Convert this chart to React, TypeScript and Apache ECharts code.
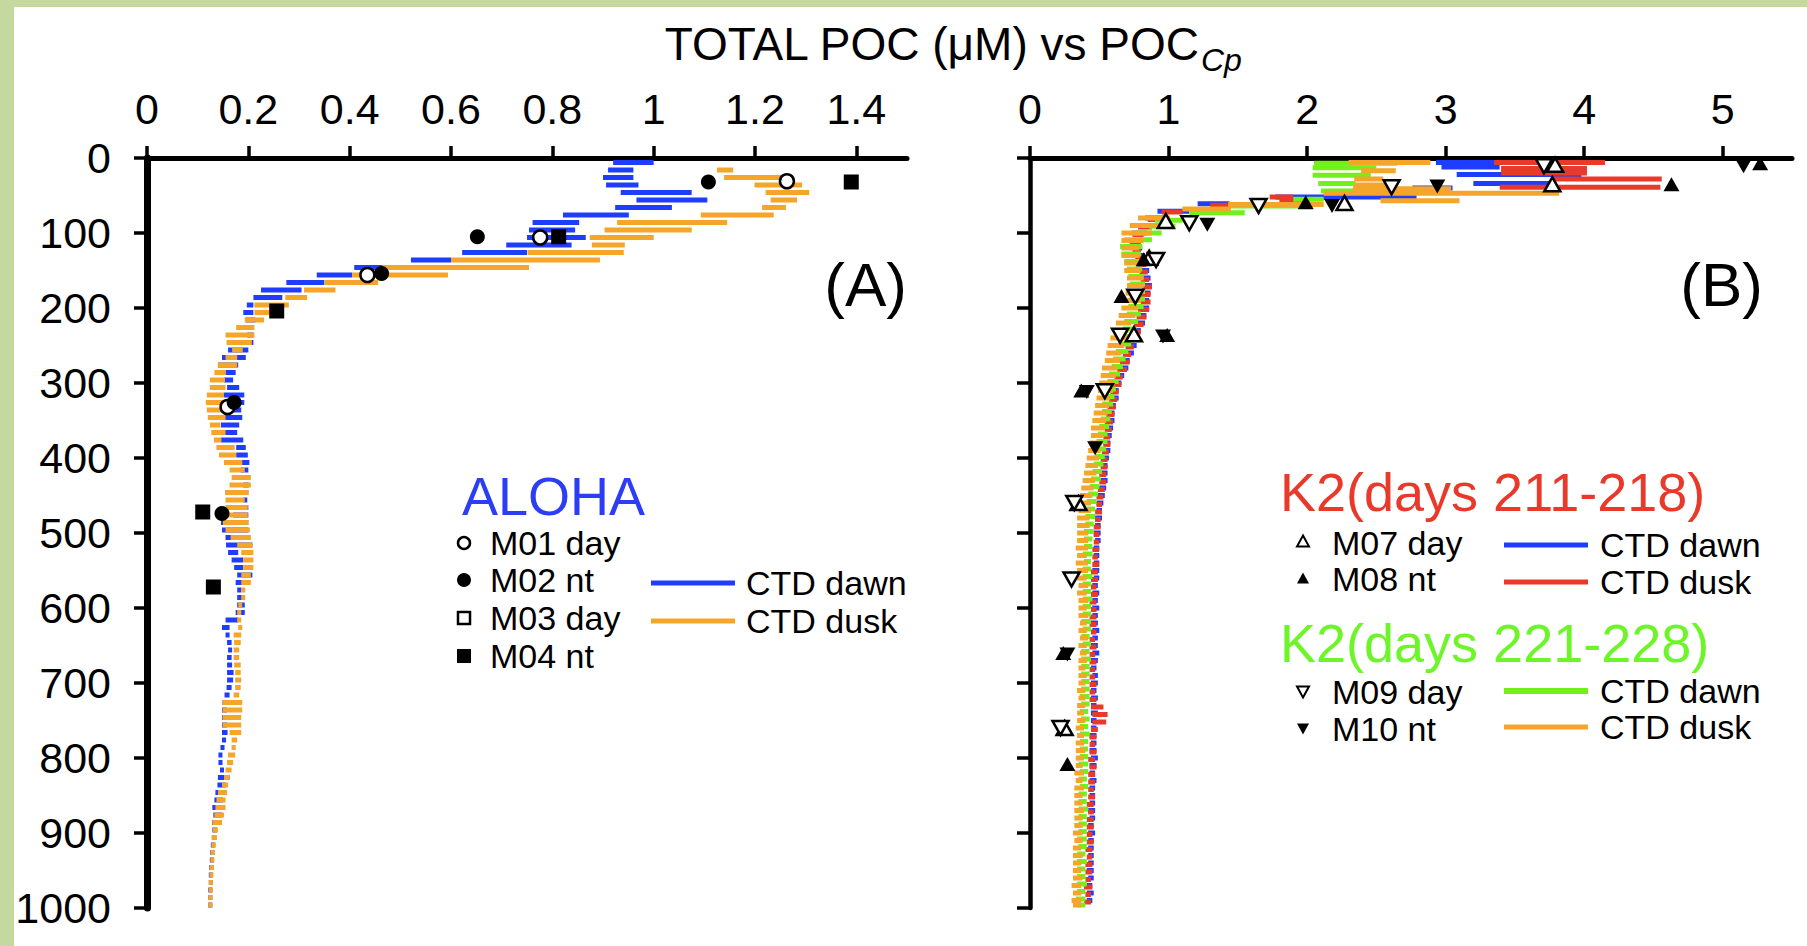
import React, { useEffect, useRef } from 'react';
import * as echarts from 'echarts';

const W = 1807;
const H = 946;
const FONT = '"Liberation Sans", Arial, Helvetica, sans-serif';

const BG_GREEN = '#c5d89d';
const BLUE = '#1f3dff';
const ORANGE = '#f5a52a';
const RED = '#e8392a';
const GREEN = '#72f01c';

// Axis tick values
const aTicks = [0, 0.2, 0.4, 0.6, 0.8, 1, 1.2, 1.4];
const bTicks = [0, 1, 2, 3, 4, 5];

// ---- Panel A (ALOHA) CTD profiles: [depth m, min POC, max POC] ----
const alohaDawn = [
  [6,0.92,1.00],[16,0.91,0.96],[26,0.90,0.96],[36,0.906,0.97],[46,0.935,1.075],[56,0.966,1.106],[66,0.924,1.036],[76,0.821,0.951],[86,0.761,0.853],[96,0.754,0.845],
  [106,0.75,0.866],[116,0.709,0.838],[126,0.622,0.75],[136,0.521,0.60],[146,0.409,0.465],[156,0.335,0.405],[166,0.275,0.35],[176,0.225,0.305],[186,0.21,0.267],[196,0.197,0.21],
  [206,0.19,0.21],[216,0.195,0.214],[226,0.19,0.208],[236,0.198,0.21],[246,0.20,0.21],[256,0.16,0.20],[266,0.148,0.195],[276,0.14,0.18],[286,0.155,0.175],[296,0.152,0.17],
  [306,0.158,0.182],[316,0.152,0.192],[326,0.163,0.192],[336,0.152,0.186],[346,0.148,0.188],[356,0.146,0.182],[366,0.144,0.178],[376,0.146,0.19],[386,0.176,0.195],[396,0.176,0.199],
  [406,0.186,0.202],[416,0.185,0.20],[426,0.19,0.20],[436,0.19,0.201],[446,0.155,0.20],[456,0.19,0.196],[466,0.185,0.20],[476,0.17,0.20],[486,0.146,0.20],[496,0.148,0.20],
  [506,0.155,0.203],[516,0.156,0.208],[526,0.16,0.18],[536,0.167,0.19],[546,0.172,0.19],[556,0.178,0.208],[566,0.175,0.19],[576,0.178,0.186],[586,0.178,0.19],[596,0.178,0.193],
  [606,0.175,0.193],[616,0.155,0.18],[626,0.148,0.163],[636,0.155,0.163],[646,0.158,0.167],[656,0.16,0.168],[666,0.158,0.167],[676,0.158,0.168],[686,0.158,0.171],[696,0.158,0.17],
  [706,0.157,0.167],[716,0.153,0.163],[726,0.149,0.161],[736,0.148,0.158],[746,0.148,0.157],[756,0.148,0.158],[766,0.148,0.159],[776,0.148,0.156],[786,0.145,0.153],[796,0.141,0.148],
  [806,0.141,0.149],[816,0.144,0.152],[826,0.14,0.163],[836,0.139,0.155],[846,0.135,0.152],[856,0.133,0.15],[866,0.129,0.148],[876,0.131,0.148],[886,0.129,0.145],[896,0.129,0.138],
  [906,0.128,0.136],[916,0.126,0.134],[926,0.125,0.133],[936,0.124,0.132],[946,0.123,0.131],[956,0.122,0.13],[966,0.122,0.13],[976,0.121,0.129],[986,0.121,0.129],[996,0.121,0.128],
];
const alohaDusk = [
  [16,1.125,1.157],[26,1.139,1.263],[36,1.199,1.293],[46,1.221,1.307],[56,1.231,1.283],[66,1.214,1.261],[76,1.093,1.237],[86,0.928,1.145],[96,0.903,1.075],
  [106,0.874,1.0],[116,0.878,0.943],[126,0.751,0.941],[136,0.60,0.894],[146,0.465,0.754],[156,0.405,0.594],[166,0.35,0.456],[176,0.31,0.372],[186,0.273,0.316],[196,0.212,0.28],
  [206,0.212,0.253],[216,0.193,0.231],[226,0.176,0.212],[236,0.155,0.212],[246,0.157,0.207],[256,0.168,0.189],[266,0.155,0.178],[276,0.14,0.178],[286,0.133,0.155],[296,0.124,0.154],
  [306,0.124,0.155],[316,0.118,0.152],[326,0.116,0.155],[336,0.118,0.148],[346,0.12,0.155],[356,0.124,0.145],[366,0.127,0.155],[376,0.132,0.147],[386,0.137,0.173],[396,0.142,0.176],
  [406,0.152,0.188],[416,0.163,0.193],[426,0.167,0.205],[436,0.163,0.205],[446,0.155,0.20],[456,0.155,0.193],[466,0.155,0.199],[476,0.16,0.199],[486,0.15,0.20],[496,0.155,0.203],
  [506,0.165,0.205],[516,0.178,0.208],[526,0.186,0.21],[536,0.19,0.21],[546,0.19,0.21],[556,0.186,0.205],[566,0.186,0.205],[576,0.186,0.193],[586,0.186,0.19],[596,0.18,0.187],
  [606,0.178,0.186],[616,0.178,0.186],[626,0.18,0.188],[636,0.171,0.186],[646,0.172,0.185],[656,0.171,0.182],[666,0.171,0.182],[676,0.172,0.185],[686,0.174,0.185],[696,0.174,0.186],
  [706,0.174,0.185],[716,0.171,0.182],[726,0.149,0.188],[736,0.149,0.188],[746,0.149,0.186],[756,0.149,0.186],[766,0.163,0.186],[776,0.167,0.178],[786,0.167,0.175],[796,0.16,0.174],
  [806,0.158,0.17],[816,0.155,0.167],[826,0.152,0.163],[836,0.148,0.16],[846,0.14,0.158],[856,0.137,0.155],[866,0.135,0.155],[876,0.133,0.152],[886,0.13,0.148],[896,0.13,0.14],
  [906,0.128,0.138],[916,0.127,0.136],[926,0.126,0.134],[936,0.125,0.133],[946,0.124,0.132],[956,0.123,0.131],[966,0.122,0.13],[976,0.122,0.13],[986,0.121,0.129],[996,0.121,0.129],
];

// ---- Panel A bottle samples: [POC, depth] ----
const m01Day = [[1.263,31],[0.776,106],[0.435,156],[0.159,332]];
const m02Nt = [[1.108,32],[0.652,105],[0.463,154],[0.172,326],[0.148,474]];
const m03Day: number[][] = [];
const m04Nt = [[1.39,32],[0.8125,105],[0.256,204],[0.110,472],[0.131,572]];

// ---- Panel B (K2) CTD profiles: [depth m, min, max] ----
const k2aDawn = [
  [6,2.93,3.69],[12,2.97,3.39],[22,3.08,3.98],[34,3.20,3.77],[40,2.76,3.05],[52,1.77,2.79],[61,1.21,1.44],[71,0.92,1.15],[80,0.83,0.97],[90,0.78,0.90],
  [100,0.74,0.84],[110,0.73,0.81],[120,0.75,0.81],[130,0.78,0.83],[140,0.79,0.85],[150,0.80,0.86],[160,0.80,0.87],[170,0.81,0.88],[180,0.80,0.87],[190,0.80,0.86],
  [200,0.79,0.86],[210,0.78,0.84],[220,0.76,0.83],[230,0.74,0.80],[240,0.72,0.78],[250,0.70,0.77],[260,0.68,0.75],[270,0.66,0.72],[280,0.64,0.71],[290,0.62,0.68],
  [300,0.60,0.66],[310,0.59,0.64],[320,0.58,0.64],[330,0.57,0.62],[340,0.56,0.61],[350,0.55,0.61],[360,0.55,0.60],[370,0.54,0.59],[380,0.53,0.58],[390,0.53,0.58],
  [400,0.52,0.57],[410,0.52,0.56],[420,0.51,0.56],[430,0.51,0.56],[440,0.50,0.55],[450,0.49,0.54],[460,0.48,0.53],[470,0.48,0.52],[480,0.47,0.52],[490,0.47,0.51],
  [500,0.46,0.51],[510,0.47,0.51],[520,0.46,0.50],[530,0.46,0.50],[540,0.46,0.50],[550,0.45,0.50],[560,0.46,0.50],[570,0.45,0.49],[580,0.45,0.50],[590,0.45,0.49],
  [600,0.45,0.50],[610,0.45,0.49],[620,0.44,0.49],[630,0.45,0.50],[640,0.45,0.49],[650,0.44,0.49],[660,0.45,0.50],[670,0.44,0.49],[680,0.44,0.48],[690,0.45,0.49],
  [700,0.44,0.49],[710,0.44,0.48],[720,0.44,0.49],[730,0.44,0.48],[740,0.44,0.49],[750,0.44,0.48],[760,0.44,0.48],[770,0.43,0.48],[780,0.44,0.48],[790,0.43,0.48],
  [800,0.44,0.49],[810,0.43,0.48],[820,0.43,0.47],[830,0.43,0.48],[840,0.43,0.47],[850,0.43,0.47],[860,0.43,0.47],[870,0.42,0.47],[880,0.43,0.47],[890,0.42,0.46],
  [900,0.42,0.47],[910,0.42,0.46],[920,0.42,0.46],[930,0.42,0.46],[940,0.42,0.46],[950,0.41,0.46],[960,0.42,0.46],[970,0.41,0.45],[980,0.41,0.46],[990,0.41,0.45],
];
const k2aDusk = [
  [6,3.35,4.15],[14,3.40,4.02],[20,3.40,4.02],[28,3.77,4.56],[39,3.39,4.55],[52,1.73,1.90],[58,1.80,2.02],[63,1.30,1.44],[72,0.95,1.10],[82,0.85,0.95],
  [92,0.78,0.88],[102,0.74,0.82],[112,0.72,0.80],[122,0.74,0.80],[132,0.76,0.82],[142,0.77,0.84],[152,0.79,0.85],[162,0.80,0.86],[172,0.81,0.88],[182,0.80,0.87],
  [192,0.80,0.87],[202,0.78,0.86],[212,0.77,0.84],[222,0.75,0.82],[232,0.73,0.80],[242,0.71,0.78],[252,0.69,0.75],[262,0.67,0.73],[272,0.65,0.72],[282,0.63,0.70],
  [292,0.61,0.67],[302,0.60,0.66],[312,0.58,0.64],[322,0.57,0.63],[332,0.56,0.62],[342,0.55,0.61],[352,0.54,0.60],[362,0.54,0.59],[372,0.53,0.58],[382,0.53,0.58],
  [392,0.52,0.57],[402,0.51,0.56],[412,0.51,0.56],[422,0.50,0.55],[432,0.50,0.55],[442,0.49,0.54],[452,0.48,0.53],[462,0.48,0.52],[472,0.47,0.52],[482,0.47,0.51],
  [492,0.46,0.51],[502,0.46,0.50],[512,0.46,0.50],[522,0.45,0.50],[532,0.45,0.49],[542,0.45,0.50],[552,0.44,0.49],[562,0.44,0.49],[572,0.44,0.48],[582,0.44,0.49],
  [592,0.43,0.48],[602,0.44,0.48],[612,0.43,0.48],[622,0.43,0.48],[632,0.44,0.48],[642,0.43,0.47],[652,0.43,0.48],[662,0.43,0.47],[672,0.43,0.48],[682,0.43,0.47],
  [692,0.43,0.47],[702,0.43,0.48],[712,0.43,0.47],[722,0.43,0.48],[732,0.44,0.53],[742,0.45,0.56],[752,0.45,0.55],[762,0.44,0.49],[772,0.43,0.48],[782,0.43,0.47],
  [792,0.43,0.48],[802,0.42,0.47],[812,0.43,0.48],[822,0.42,0.47],[832,0.42,0.47],[842,0.42,0.46],[852,0.42,0.47],[862,0.41,0.46],[872,0.42,0.46],[882,0.41,0.46],
  [892,0.41,0.46],[902,0.41,0.45],[912,0.41,0.46],[922,0.40,0.45],[932,0.41,0.45],[942,0.40,0.45],[952,0.40,0.45],[962,0.40,0.44],[972,0.39,0.45],[982,0.40,0.44],[992,0.39,0.44],
];
const k2bDawn = [
  [7,2.05,2.65],[13,2.04,2.50],[23,2.04,2.46],[34,2.08,2.35],[44,2.10,2.53],[55,1.90,2.12],[64,1.44,1.95],[73,1.15,1.55],[83,0.90,1.10],[91,0.86,1.05],
  [100,0.74,0.95],[109,0.68,0.88],[118,0.65,0.81],[128,0.66,0.80],[138,0.68,0.80],[148,0.70,0.81],[158,0.71,0.82],[168,0.72,0.83],[178,0.72,0.83],[188,0.72,0.83],
  [198,0.71,0.82],[208,0.70,0.80],[218,0.68,0.78],[228,0.67,0.77],[238,0.66,0.75],[248,0.64,0.73],[258,0.62,0.71],[268,0.60,0.69],[278,0.59,0.67],[288,0.57,0.65],
  [298,0.56,0.64],[308,0.54,0.62],[318,0.53,0.61],[328,0.52,0.60],[338,0.52,0.59],[348,0.51,0.58],[358,0.50,0.57],[368,0.49,0.56],[378,0.48,0.56],[388,0.48,0.55],
  [398,0.47,0.54],[408,0.46,0.53],[418,0.45,0.52],[428,0.44,0.51],[438,0.43,0.50],[448,0.42,0.49],[458,0.41,0.48],[468,0.41,0.47],[478,0.40,0.47],[488,0.40,0.46],
  [498,0.39,0.46],[508,0.39,0.45],[518,0.39,0.45],[528,0.38,0.45],[538,0.39,0.44],[548,0.38,0.44],[558,0.38,0.45],[568,0.38,0.44],[578,0.38,0.44],[588,0.38,0.45],
  [598,0.38,0.44],[608,0.38,0.44],[618,0.37,0.44],[628,0.38,0.44],[638,0.37,0.43],[648,0.38,0.44],[658,0.37,0.43],[668,0.37,0.44],[678,0.37,0.43],[688,0.37,0.43],
  [698,0.37,0.43],[708,0.37,0.43],[718,0.36,0.43],[728,0.37,0.43],[738,0.36,0.42],[748,0.37,0.43],[758,0.36,0.42],[768,0.36,0.43],[778,0.36,0.42],[788,0.36,0.42],
  [798,0.36,0.42],[808,0.35,0.42],[818,0.36,0.42],[828,0.35,0.41],[838,0.36,0.42],[848,0.35,0.41],[858,0.35,0.41],[868,0.35,0.42],[878,0.35,0.41],[888,0.35,0.41],
  [898,0.35,0.41],[908,0.34,0.41],[918,0.35,0.41],[928,0.34,0.40],[938,0.34,0.41],[948,0.34,0.40],[958,0.34,0.40],[968,0.34,0.41],[978,0.34,0.40],[988,0.33,0.40],[996,0.34,0.40],
];
const k2bDusk = [
  [6,2.30,2.89],[17,2.39,2.64],[28,2.34,2.55],[36,2.34,2.60],[41,2.33,3.04],[47,2.12,3.82],[57,2.53,3.10],[62,1.43,2.12],[68,1.10,1.45],[80,0.78,1.01],
  [90,0.72,0.96],[100,0.66,0.88],[110,0.66,0.82],[120,0.66,0.79],[130,0.66,0.79],[140,0.68,0.80],[150,0.68,0.80],[160,0.70,0.82],[170,0.70,0.82],[180,0.69,0.81],
  [190,0.68,0.80],[200,0.66,0.78],[210,0.64,0.76],[220,0.62,0.73],[230,0.60,0.71],[240,0.58,0.70],[250,0.56,0.68],[260,0.55,0.66],[270,0.54,0.65],[280,0.52,0.63],
  [290,0.51,0.62],[300,0.50,0.61],[310,0.49,0.60],[320,0.48,0.58],[330,0.47,0.57],[340,0.46,0.56],[350,0.45,0.55],[360,0.44,0.54],[370,0.44,0.53],[380,0.43,0.52],
  [390,0.42,0.51],[400,0.41,0.50],[410,0.40,0.49],[420,0.39,0.48],[430,0.38,0.47],[440,0.37,0.46],[450,0.36,0.45],[460,0.35,0.44],[470,0.35,0.44],[480,0.34,0.43],
  [490,0.34,0.43],[500,0.34,0.42],[510,0.34,0.42],[520,0.33,0.42],[530,0.34,0.41],[540,0.33,0.42],[550,0.34,0.42],[560,0.34,0.41],[570,0.35,0.42],[580,0.34,0.41],
  [590,0.35,0.42],[600,0.35,0.41],[610,0.35,0.42],[620,0.36,0.41],[630,0.35,0.41],[640,0.36,0.42],[650,0.35,0.41],[660,0.36,0.41],[670,0.35,0.41],[680,0.35,0.40],
  [690,0.35,0.41],[700,0.35,0.40],[710,0.34,0.40],[720,0.35,0.40],[730,0.34,0.40],[740,0.34,0.39],[750,0.34,0.40],[760,0.33,0.39],[770,0.34,0.39],[780,0.33,0.39],
  [790,0.33,0.40],[800,0.33,0.39],[810,0.33,0.38],[820,0.32,0.39],[830,0.33,0.38],[840,0.32,0.39],[850,0.32,0.38],[860,0.32,0.38],[870,0.32,0.39],[880,0.32,0.38],
  [890,0.32,0.38],[900,0.31,0.38],[910,0.32,0.38],[920,0.31,0.37],[930,0.31,0.38],[940,0.31,0.37],[950,0.31,0.37],[960,0.31,0.38],[970,0.30,0.37],[980,0.31,0.37],[990,0.30,0.37],[996,0.31,0.37],
];

// ---- Panel B bottle samples: [POC, depth] ----
const m07Day = [[3.79,9],[3.77,35],[2.27,60],[0.98,84],[0.86,133],[0.75,235],[0.35,460],[0.25,760]];
const m08Nt = [[5.27,7],[4.63,35],[1.99,59],[0.82,135],[0.66,184],[0.99,236],[0.37,310],[0.24,660],[0.27,808]];
const m09Day = [[3.71,11],[2.61,39],[1.65,64],[1.15,87],[0.91,136],[0.76,185],[0.65,237],[0.54,311],[0.32,460],[0.30,562],[0.22,760]];
const m10Nt = [[5.15,11],[2.94,38],[2.18,64],[1.28,89],[0.96,238],[0.41,312],[0.47,387],[0.27,662]];

function ctdSeries(data: number[][], color: string, idx: number, h: number) {
  return {
    type: 'custom',
    xAxisIndex: idx,
    yAxisIndex: idx,
    data,
    encode: { x: [1, 2], y: 0 },
    silent: true,
    z: 2,
    renderItem: (_p: any, api: any) => {
      const d = api.value(0);
      const a = api.value(1);
      const b = api.value(2);
      const p1 = api.coord([a, d]);
      const p2 = api.coord([b, d]);
      const w = Math.max(p2[0] - p1[0], 4);
      return {
        type: 'rect',
        shape: { x: p1[0], y: p1[1] - h / 2, width: w, height: h },
        style: { fill: color },
      };
    },
  };
}

function scatter(data: number[][], idx: number, symbol: string, size: any, filled: boolean, rotate = 0) {
  return {
    type: 'scatter',
    xAxisIndex: idx,
    yAxisIndex: idx,
    data,
    symbol,
    symbolSize: size,
    symbolRotate: rotate,
    silent: true,
    z: 5,
    itemStyle: filled
      ? { color: '#000', borderColor: '#000', borderWidth: 0, opacity: 1 }
      : { color: '#fff', borderColor: '#000', borderWidth: 2.5, opacity: 1 },
  };
}

function xAxisCfg(grid: number, max: number, ticks: number[]) {
  return {
    gridIndex: grid,
    type: 'value',
    position: 'top',
    min: 0,
    max,
    axisLine: { show: true, onZero: false, lineStyle: { color: '#000', width: 5 } },
    axisTick: { show: true, inside: false, length: 12, customValues: ticks, lineStyle: { color: '#000', width: 3.5 } },
    axisLabel: {
      show: true,
      customValues: ticks,
      margin: 28,
      fontSize: 43,
      fontFamily: FONT,
      color: '#000',
      formatter: (v: number) => String(Math.round(v * 10) / 10),
    },
    splitLine: { show: false },
  };
}

function yAxisCfg(grid: number, labels: boolean, lw: number) {
  return {
    gridIndex: grid,
    type: 'value',
    inverse: true,
    min: 0,
    max: 1000,
    interval: 100,
    axisLine: { show: true, onZero: false, lineStyle: { color: '#000', width: lw } },
    axisTick: { show: true, inside: false, length: 13, lineStyle: { color: '#000', width: 3.5 } },
    axisLabel: {
      show: labels,
      margin: 36,
      fontSize: 43,
      fontFamily: FONT,
      color: '#000',
      formatter: (v: number) => String(v),
    },
    splitLine: { show: false },
  };
}

function txt(text: string, x: number, y: number, size: number, fill = '#000', align = 'left', extra: any = {}) {
  return {
    type: 'text',
    x,
    y,
    silent: true,
    style: {
      text,
      fill,
      fontSize: size,
      fontFamily: FONT,
      lineHeight: size,
      align,
      verticalAlign: 'middle',
      textAlign: align,
      textVerticalAlign: 'middle',
      ...extra,
    },
  };
}

function tri(cx: number, cy: number, s: number, up: boolean, filled: boolean) {
  const h = s * 0.9;
  const pts = up
    ? [[cx, cy - h / 2], [cx + s / 2, cy + h / 2], [cx - s / 2, cy + h / 2]]
    : [[cx, cy + h / 2], [cx + s / 2, cy - h / 2], [cx - s / 2, cy - h / 2]];
  return {
    type: 'polygon',
    silent: true,
    shape: { points: pts },
    style: filled ? { fill: '#000' } : { fill: '#fff', stroke: '#000', lineWidth: 2 },
  };
}

function hline(x1: number, x2: number, y: number, color: string, w = 5) {
  return { type: 'line', silent: true, shape: { x1, y1: y, x2, y2: y }, style: { stroke: color, lineWidth: w } };
}

const LEG = 34;

export default function App() {
  const ref = useRef<HTMLDivElement>(null);
  useEffect(() => {
    document.body.style.margin = '0';
    if (!ref.current) return;
    const chart = echarts.init(ref.current, null, { renderer: 'svg', width: W, height: H });
    const option: any = {
      animation: false,
      backgroundColor: '#ffffff',
      grid: [
        { left: 147, top: 158, width: 760, height: 750 },
        { left: 1030, top: 158, width: 762, height: 750 },
      ],
      xAxis: [xAxisCfg(0, 1.5, aTicks), xAxisCfg(1, 5.5, bTicks)],
      yAxis: [yAxisCfg(0, true, 7), yAxisCfg(1, false, 4.5)],
      series: [
        ctdSeries(alohaDawn, BLUE, 0, 5),
        ctdSeries(alohaDusk, ORANGE, 0, 5),
        ctdSeries(k2aDawn, BLUE, 1, 5),
        ctdSeries(k2aDusk, RED, 1, 5),
        ctdSeries(k2bDawn, GREEN, 1, 5),
        ctdSeries(k2bDusk, ORANGE, 1, 5),
        scatter(m01Day, 0, 'circle', 14, false),
        scatter(m02Nt, 0, 'circle', 15, true),
        scatter(m03Day, 0, 'rect', 14, false),
        scatter(m04Nt, 0, 'rect', 15, true),
        scatter(m07Day, 1, 'triangle', [16, 14], false),
        scatter(m08Nt, 1, 'triangle', [16, 14], true),
        scatter(m09Day, 1, 'triangle', [16, 14], false, 180),
        scatter(m10Nt, 1, 'triangle', [16, 14], true, 180),
      ],
      graphic: [
        { type: 'rect', silent: true, z: -10, shape: { x: 0, y: 0, width: 14, height: H }, style: { fill: BG_GREEN } },
        { type: 'rect', silent: true, z: -10, shape: { x: 0, y: 0, width: W, height: 7 }, style: { fill: BG_GREEN } },
        txt('TOTAL POC (\u03bcM) vs POC', 1199, 44, 46, '#000', 'right'),
        txt('Cp', 1201, 60, 32, '#000', 'left', { fontStyle: 'italic' }),
        txt('(A)', 907, 284, 62, '#000', 'right'),
        txt('(B)', 1763, 284, 62, '#000', 'right'),
        // Legend A
        txt('ALOHA', 462, 496, 54, '#2b3df5'),
        { type: 'circle', silent: true, shape: { cx: 464, cy: 543, r: 6 }, style: { fill: '#fff', stroke: '#000', lineWidth: 2.5 } },
        { type: 'circle', silent: true, shape: { cx: 464, cy: 580, r: 7 }, style: { fill: '#000' } },
        { type: 'rect', silent: true, shape: { x: 458, y: 612, width: 12, height: 12 }, style: { fill: '#fff', stroke: '#000', lineWidth: 2.5 } },
        { type: 'rect', silent: true, shape: { x: 457, y: 649, width: 14, height: 14 }, style: { fill: '#000' } },
        txt('M01 day', 490, 543, LEG),
        txt('M02 nt', 490, 580, LEG),
        txt('M03 day', 490, 618, LEG),
        txt('M04 nt', 490, 656, LEG),
        hline(651, 735, 583, BLUE),
        hline(651, 735, 621, ORANGE),
        txt('CTD dawn', 746, 583, LEG),
        txt('CTD dusk', 746, 621, LEG),
        // Legend B
        txt('K2(days 211-218)', 1280, 492, 54, RED),
        tri(1303, 541, 12, true, false),
        tri(1303, 578, 12, true, true),
        txt('M07 day', 1332, 543, LEG),
        txt('M08 nt', 1332, 579, LEG),
        hline(1504, 1588, 545, BLUE),
        hline(1504, 1588, 582, RED),
        txt('CTD dawn', 1600, 545, LEG),
        txt('CTD dusk', 1600, 582, LEG),
        txt('K2(days 221-228)', 1280, 643, 54, '#6ef52a'),
        tri(1303, 692, 12, false, false),
        tri(1303, 729, 12, false, true),
        txt('M09 day', 1332, 692, LEG),
        txt('M10 nt', 1332, 729, LEG),
        hline(1504, 1588, 691, GREEN, 6),
        hline(1504, 1588, 727, ORANGE),
        txt('CTD dawn', 1600, 691, LEG),
        txt('CTD dusk', 1600, 727, LEG),
      ],
    };
    chart.setOption(option);
    return () => chart.dispose();
  }, []);
  return <div ref={ref} style={{ width: W, height: H }} />;
}
